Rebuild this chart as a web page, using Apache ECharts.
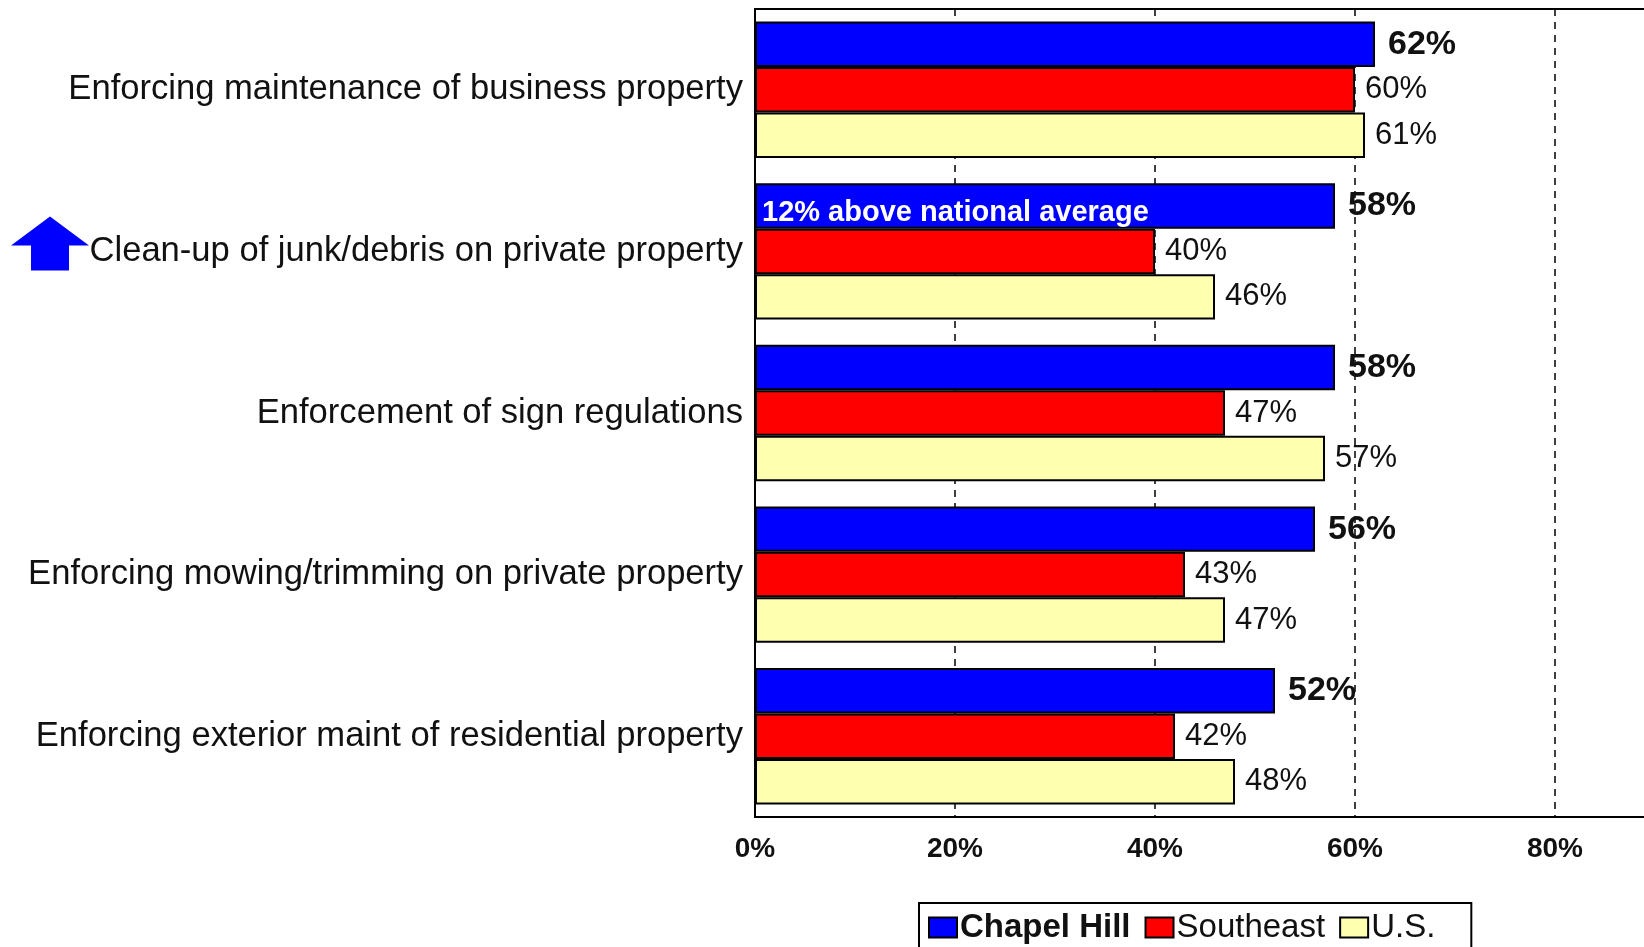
<!DOCTYPE html>
<html>
<head>
<meta charset="utf-8">
<script src="https://cdn.jsdelivr.net/npm/echarts@6/dist/echarts.min.js"></script>
<style>
	html, body {margin: 0; padding: 0; background: #fff;}
	#main {width: 1644px; height: 947px;}
</style>
</head>
<body>
<div id="main"></div>
<script>
const categories = [
	'Enforcing maintenance of business property',
	'Clean-up of junk/debris on private property',
	'Enforcement of sign regulations',
	'Enforcing mowing/trimming on private property',
	'Enforcing exterior maint of residential property'
];
const chapelHill = [62, 58, 58, 56, 52];
const southeast = [60, 40, 47, 43, 42];
const us = [61, 46, 57, 47, 48];
const xTicks = [0, 20, 40, 60, 80, 100];
const note = '12% above national average';
const noteIndex = 1;

const font = "'Liberation Sans', Arial, sans-serif";

let chart = echarts.init(document.getElementById('main'));

const barSeries = (name, data, color, bold) => ({
	name: name,
	type: 'bar',
	data: data,
	barGap: '0%',
	barCategoryGap: '15.6%',
	itemStyle: {
		color: color,
		borderColor: '#000',
		borderWidth: 2
	},
	label: {
		show: true,
		position: 'right',
		distance: bold ? 13 : 10,
		formatter: '{c}%',
		fontFamily: font,
		fontSize: bold ? 34 : 31,
		fontWeight: bold ? 'bold' : 'normal',
		color: '#111'
	}
});

let option = {
	animation: false,
	backgroundColor: '#fff',
	grid: {
		left: 755,
		top: 9,
		width: 1000,
		height: 808,
		containLabel: false,
		outerBoundsMode: 'none',
		show: true,
		borderColor: '#000',
		borderWidth: 2
	},
	legend: {
		left: 919,
		top: 903,
		padding: [8, 36, 20, 9],
		itemWidth: 28,
		itemHeight: 20,
		itemGap: 14,
		icon: 'rect',
		borderColor: '#000',
		borderWidth: 2,
		backgroundColor: '#fff',
		selectedMode: false,
		textStyle: {
			fontFamily: font,
			fontSize: 33,
			color: '#111',
			padding: [0, 0, 0, -2]
		},
		data: [
			{name: 'Chapel Hill', textStyle: {fontWeight: 'bold'}},
			{name: 'Southeast'},
			{name: 'U.S.'}
		]
	},
	xAxis: {
		type: 'value',
		min: xTicks[0],
		max: xTicks[xTicks.length - 1],
		interval: 20,
		axisLine: {show: true, lineStyle: {color: '#000', width: 2}},
		axisTick: {show: false},
		axisLabel: {
			formatter: '{value}%',
			fontFamily: font,
			fontSize: 28,
			fontWeight: 'bold',
			color: '#111',
			margin: 18
		},
		splitLine: {
			show: true,
			lineStyle: {color: '#000', width: 1.5, type: [7, 6]}
		}
	},
	yAxis: {
		type: 'category',
		data: categories,
		inverse: true,
		axisLine: {show: true, lineStyle: {color: '#000', width: 2}},
		axisTick: {show: false},
		axisLabel: {
			fontFamily: font,
			fontSize: 34.6,
			color: '#111',
			margin: 12
		}
	},
	series: [
		barSeries('Chapel Hill', chapelHill, '#0000FF', true),
		barSeries('Southeast', southeast, '#FF0000', false),
		barSeries('U.S.', us, '#FFFFB0', false)
	]
};

chart.setOption(option);

// annotation and arrow placed from the axes
const x0 = chart.convertToPixel({xAxisIndex: 0}, 0);
const cy = chart.convertToPixel({yAxisIndex: 0}, noteIndex);
chart.setOption({
	graphic: [
		{
			type: 'text',
			left: x0 + 7,
			top: cy - 41 - 12,
			z: 100,
			style: {
				text: note,
				fill: '#fff',
				font: 'bold 29px ' + font
			}
		},
		{
			type: 'polygon',
			z: 100,
			shape: {
				points: [
					[50, cy - 35], [89, cy - 6], [69, cy - 6], [69, cy + 19],
					[31, cy + 19], [31, cy - 6], [11, cy - 6]
				]
			},
			style: {fill: '#0000FF'}
		}
	]
});
</script>
</body>
</html>
